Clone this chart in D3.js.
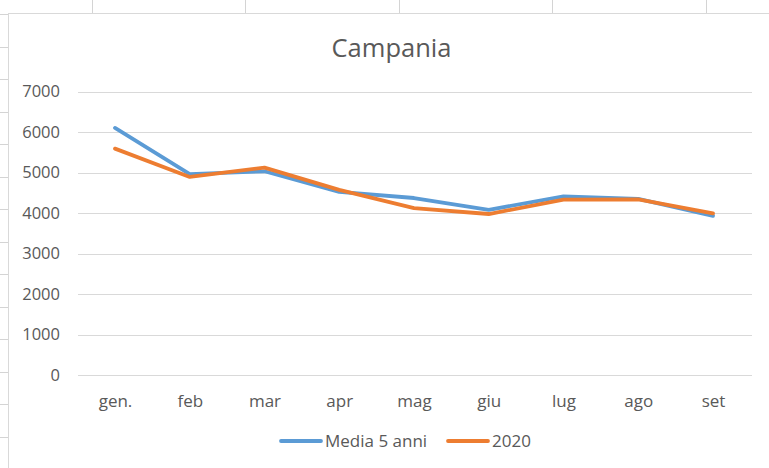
<!DOCTYPE html>
<html><head><meta charset="utf-8">
<script src="https://cdn.jsdelivr.net/npm/d3@7"></script>
<style>body{margin:0;background:#fff;overflow:hidden}svg{display:block}</style>
</head><body>
<script>
const categories = ["gen.","feb","mar","apr","mag","giu","lug","ago","set"];
const media5 = [6100,4960,5030,4520,4370,4080,4410,4350,3930];
const y2020 = [5590,4890,5120,4570,4120,3975,4330,4335,3990];
const yTicks = [0,1000,2000,3000,4000,5000,6000,7000];
const seriesNames = ["Media 5 anni","2020"];
const colors = ["#5B9BD5","#ED7D31"];

const W = 769, H = 468;
const svg = d3.select("body").append("svg").attr("width",W).attr("height",H);
const font = "'Open Sans', sans-serif";

// spreadsheet background lines
const sheet = svg.append("g").attr("stroke","#d4d4d4").attr("stroke-width",1);
[92,245,399,552,706].forEach(x=>sheet.append("line").attr("x1",x+0.5).attr("x2",x+0.5).attr("y1",0).attr("y2",13));
for(let y=14; y<H; y+=32.5){ sheet.append("line").attr("x1",0).attr("x2",8).attr("y1",Math.round(y)+0.5).attr("y2",Math.round(y)+0.5); }

// chart area
svg.append("rect").attr("x",8.5).attr("y",13.5).attr("width",W).attr("height",H).attr("fill","#fff").attr("stroke","#d9d9d9");

const x = d3.scalePoint().domain(categories).range([115,713]);
const y = d3.scaleLinear().domain([0,7000]).range([375,91.5]);

// gridlines
svg.append("g").selectAll("line").data(yTicks).join("line")
  .attr("x1",78).attr("x2",752).attr("y1",d=>Math.round(y(d))+0.5).attr("y2",d=>Math.round(y(d))+0.5)
  .attr("stroke","#d9d9d9").attr("stroke-width",1);

// y axis labels
const yAxis = svg.append("g").attr("transform","translate(60,0)")
  .call(d3.axisLeft(y).tickValues(yTicks).tickSize(0).tickPadding(0).tickFormat(d3.format("d")));
yAxis.select(".domain").remove();
yAxis.selectAll("text").attr("fill","#595959").style("font-family",font).style("font-size","16.5px");

// x axis labels
const xAxis = svg.append("g").attr("transform","translate(0,395)")
  .call(d3.axisBottom(x).tickSize(0).tickPadding(0));
xAxis.select(".domain").remove();
xAxis.selectAll("text").attr("fill","#595959").style("font-family",font).style("font-size","17px");

// lines
const line = d3.line().x((d,i)=>x(categories[i])).y(d=>y(d));
[media5,y2020].forEach((s,i)=>{
  svg.append("path").datum(s).attr("d",line).attr("fill","none")
    .attr("stroke",colors[i]).attr("stroke-width",3.8).attr("stroke-linejoin","round").attr("stroke-linecap","round");
});

// title
svg.append("text").attr("x",391.5).attr("y",57).attr("text-anchor","middle")
  .attr("fill","#595959").style("font-family",font).style("font-size","25.5px").text("Campania");

// legend
const leg = [{x:280,tx:325},{x:447,tx:492}];
seriesNames.forEach((n,i)=>{
  svg.append("line").attr("x1",leg[i].x+1).attr("x2",leg[i].x+41).attr("y1",441).attr("y2",441)
    .attr("stroke",colors[i]).attr("stroke-width",3.8).attr("stroke-linecap","round");
  svg.append("text").attr("x",leg[i].tx).attr("y",447).attr("fill","#595959")
    .style("font-family",font).style("font-size","17px").text(n);
});
</script>
</body></html>
